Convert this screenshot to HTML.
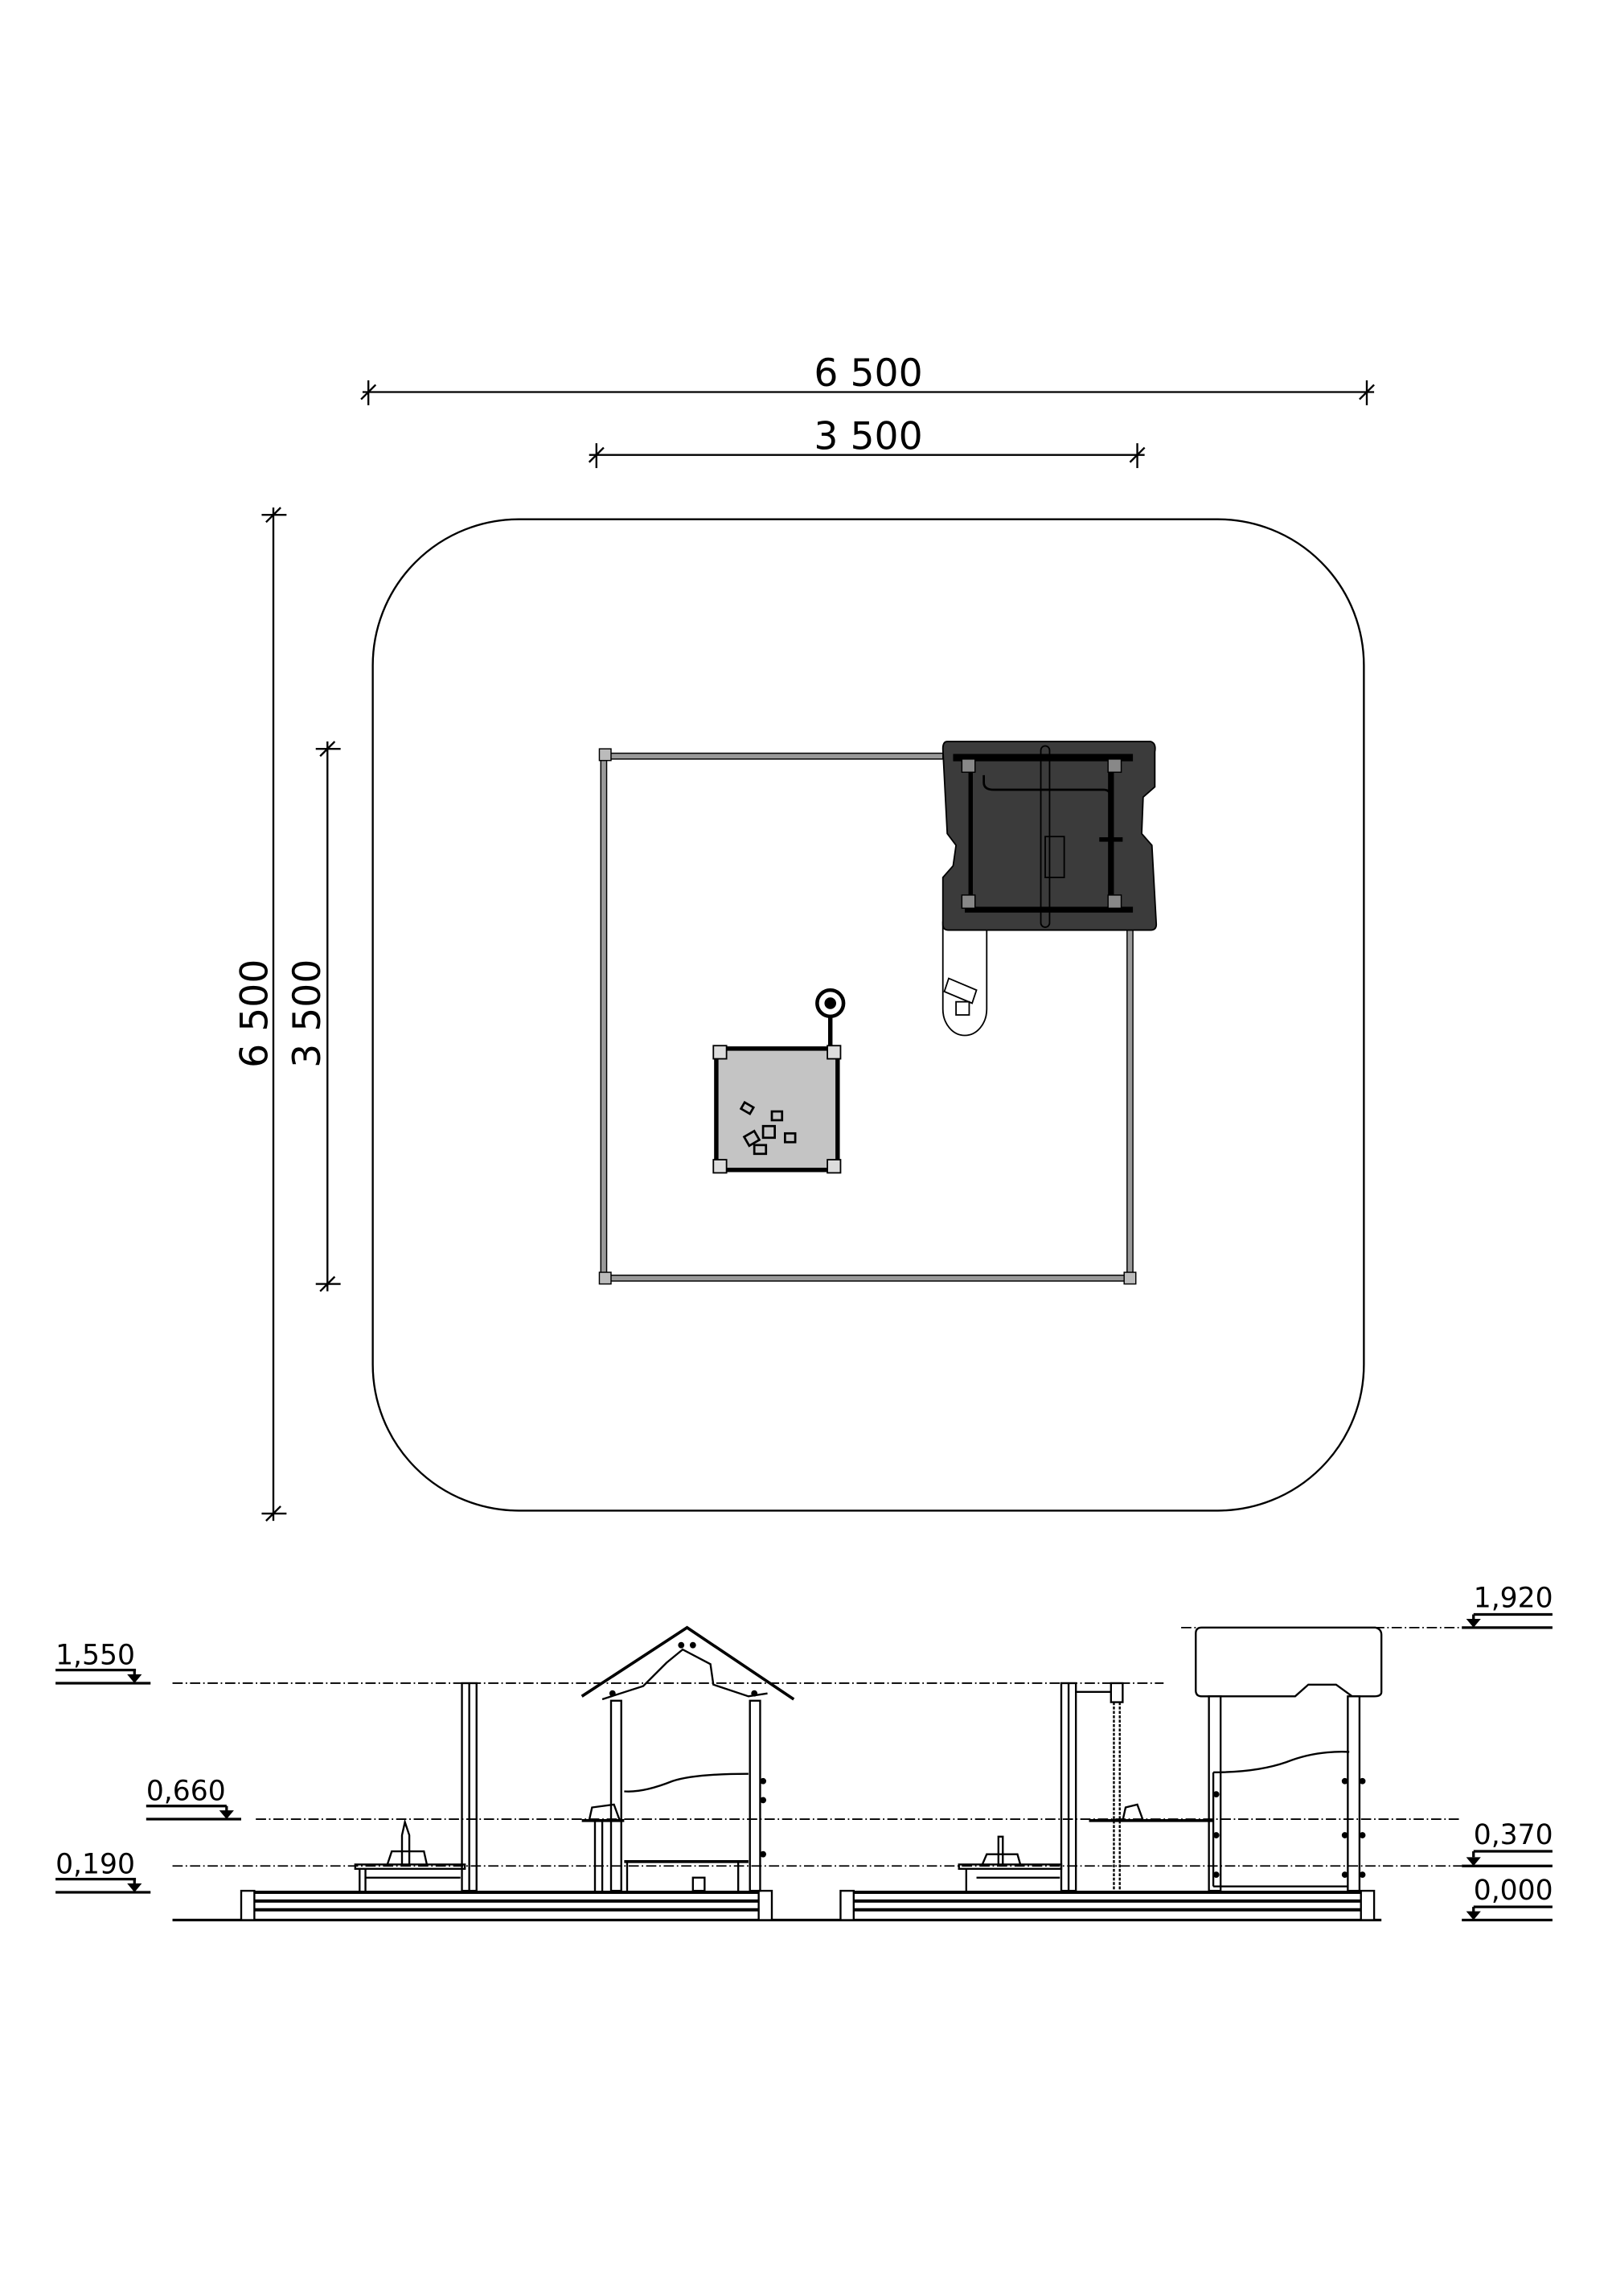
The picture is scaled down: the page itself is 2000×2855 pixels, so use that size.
<!DOCTYPE html>
<html><head><meta charset="utf-8"><style>html,body{margin:0;padding:0;background:#fff}svg{display:block}</style></head>
<body>
<svg width="2000" height="2855" viewBox="0 0 1100 1570" xmlns="http://www.w3.org/2000/svg" font-family="'DejaVu Sans','Liberation Sans',sans-serif">
<rect width="1100" height="1570" fill="#fff"/>
<g stroke="#000" stroke-width="1.3" fill="none">
<line x1="248" y1="268" x2="940" y2="268"/>
<line x1="252" y1="260" x2="252" y2="277"/><line x1="247" y1="273" x2="257" y2="263"/>
<line x1="935" y1="260" x2="935" y2="277"/><line x1="930" y1="273" x2="940" y2="263"/>
<line x1="403" y1="311" x2="783" y2="311"/>
<line x1="408" y1="303" x2="408" y2="320"/><line x1="403" y1="316" x2="413" y2="306"/>
<line x1="778" y1="303" x2="778" y2="320"/><line x1="773" y1="316" x2="783" y2="306"/>
<line x1="187" y1="347" x2="187" y2="1040"/>
<line x1="179" y1="352" x2="196" y2="352"/><line x1="182" y1="357" x2="192" y2="347"/>
<line x1="179" y1="1035" x2="196" y2="1035"/><line x1="182" y1="1040" x2="192" y2="1030"/>
<line x1="224" y1="507" x2="224" y2="883"/>
<line x1="216" y1="512" x2="233" y2="512"/><line x1="219" y1="517" x2="229" y2="507"/>
<line x1="216" y1="878" x2="233" y2="878"/><line x1="219" y1="883" x2="229" y2="873"/>
<rect x="255" y="355" width="678" height="678" rx="100" ry="100"/>
</g>
<g font-size="26" fill="#000" text-anchor="middle">
<text x="594" y="264">6 500</text>
<text x="594" y="307">3 500</text>
<text transform="translate(183,693) rotate(-90)">6 500</text>
<text transform="translate(219,693) rotate(-90)">3 500</text>
</g>
<g stroke="#000" stroke-width="0.8" fill="#999">
<rect x="413" y="515" width="232" height="4"/>
<rect x="413" y="872" width="362" height="4"/>
<rect x="411" y="515" width="4" height="360"/>
<rect x="771" y="630" width="4" height="245"/>
<rect x="410" y="512" width="8" height="8" fill="#bbb"/>
<rect x="410" y="870" width="8" height="8" fill="#bbb"/>
<rect x="769" y="870" width="8" height="8" fill="#bbb"/>
</g>
<path d="M645 630 L645 690 A15 18 0 0 0 675 690 L675 630" stroke="#000" stroke-width="1" fill="#fff"/>
<g stroke="#000" stroke-width="1" fill="none">
<path d="M649 669 L668 677 L665 686 L646 678 Z"/><rect x="654" y="685" width="9" height="9"/>
</g>
<path d="M648 507 L787 507 Q791 508 790 514 L790 538 L782 545 L781 570 L788 578 L791 632 Q791 636 787 636 L649 636 Q645 636 645 632 L645 600 L652 592 L654 578 L648 570 L645 512 Q645 507 648 507 Z" fill="#3b3b3b" stroke="#000" stroke-width="1"/>
<g stroke="#000" fill="none">
<line x1="652" y1="518" x2="775" y2="518" stroke-width="5"/>
<line x1="660" y1="622" x2="775" y2="622" stroke-width="4"/>
<line x1="664" y1="520" x2="664" y2="622" stroke-width="3"/>
<line x1="760" y1="520" x2="760" y2="622" stroke-width="4"/>
<path d="M673 530 L673 535 Q673 540 680 540 L755 540 Q760 540 760 546" stroke-width="1.5"/>
<rect x="712" y="510" width="6" height="124" rx="3" stroke-width="1"/>
<path d="M715 572 L728 572 L728 600 L715 600 Z" stroke-width="1"/>
<line x1="752" y1="574" x2="768" y2="574" stroke-width="3"/>
</g>
<g fill="#888" stroke="#000" stroke-width="0.8">
<rect x="658" y="519" width="9" height="9"/><rect x="758" y="519" width="9" height="9"/>
<rect x="658" y="612" width="9" height="9"/><rect x="758" y="612" width="9" height="9"/>
</g>
<rect x="490" y="717" width="83" height="83" fill="#c4c4c4" stroke="#000" stroke-width="3"/>
<g fill="#ddd" stroke="#000" stroke-width="1">
<rect x="488" y="715" width="9" height="9"/><rect x="566" y="715" width="9" height="9"/>
<rect x="488" y="793" width="9" height="9"/><rect x="566" y="793" width="9" height="9"/>
</g>
<line x1="568" y1="690" x2="568" y2="715" stroke="#000" stroke-width="3"/>
<circle cx="568" cy="686" r="9" fill="#fff" stroke="#000" stroke-width="2.5"/>
<circle cx="568" cy="686" r="4" fill="#000"/>
<g stroke="#000" stroke-width="1.5" fill="none">
<rect x="508" y="755" width="7" height="5" transform="rotate(30 511 757)"/>
<rect x="522" y="770" width="8" height="8"/><rect x="528" y="760" width="7" height="6"/>
<rect x="510" y="775" width="8" height="7" transform="rotate(-30 514 778)"/>
<rect x="516" y="783" width="8" height="6"/><rect x="537" y="775" width="7" height="6"/>
</g>
<g stroke="#000" stroke-width="1" fill="none" stroke-dasharray="7,2,1,2">
<line x1="118" y1="1151" x2="796" y2="1151"/>
<line x1="175" y1="1244" x2="1000" y2="1244"/>
<line x1="118" y1="1276" x2="1000" y2="1276"/>
<line x1="808" y1="1113" x2="1000" y2="1113"/>
</g>
<g stroke="#000" stroke-width="1.8" fill="none">
<line x1="118" y1="1313" x2="945" y2="1313"/>
<line x1="38" y1="1142" x2="93" y2="1142"/><line x1="38" y1="1151" x2="103" y2="1151"/><line x1="92" y1="1142" x2="92" y2="1146"/>
<line x1="100" y1="1235" x2="155" y2="1235"/><line x1="100" y1="1244" x2="165" y2="1244"/><line x1="155" y1="1235" x2="155" y2="1239"/>
<line x1="38" y1="1285" x2="93" y2="1285"/><line x1="38" y1="1294" x2="103" y2="1294"/><line x1="92" y1="1285" x2="92" y2="1289"/>
<line x1="1008" y1="1104" x2="1062" y2="1104"/><line x1="1000" y1="1113" x2="1062" y2="1113"/><line x1="1008" y1="1104" x2="1008" y2="1108"/>
<line x1="1008" y1="1266" x2="1062" y2="1266"/><line x1="1000" y1="1276" x2="1062" y2="1276"/><line x1="1008" y1="1266" x2="1008" y2="1270"/>
<line x1="1008" y1="1304" x2="1062" y2="1304"/><line x1="1000" y1="1313" x2="1062" y2="1313"/><line x1="1008" y1="1304" x2="1008" y2="1308"/>
</g>
<g fill="#000">
<path d="M87 1145 L97 1145 L92 1151 Z"/><path d="M150 1238 L160 1238 L155 1244 Z"/><path d="M87 1288 L97 1288 L92 1294 Z"/>
<path d="M1003 1107 L1013 1107 L1008 1113 Z"/><path d="M1003 1270 L1013 1270 L1008 1276 Z"/><path d="M1003 1307 L1013 1307 L1008 1313 Z"/>
</g>
<g font-size="19" fill="#000">
<text x="38" y="1138">1,550</text><text x="100" y="1231">0,660</text><text x="38" y="1281">0,190</text>
<text x="1008" y="1099">1,920</text><text x="1008" y="1261">0,370</text><text x="1008" y="1299">0,000</text>
</g>
<g stroke="#000" stroke-width="1.3" fill="#fff">
<rect x="165" y="1293" width="9" height="20"/><rect x="519" y="1293" width="9" height="20"/>
<rect x="575" y="1293" width="9" height="20"/><rect x="931" y="1293" width="9" height="20"/>
</g>
<g stroke="#000" stroke-width="2.2">
<line x1="174" y1="1294" x2="519" y2="1294"/><line x1="174" y1="1300" x2="519" y2="1300"/><line x1="174" y1="1306" x2="519" y2="1306"/>
<line x1="584" y1="1294" x2="931" y2="1294"/><line x1="584" y1="1300" x2="931" y2="1300"/><line x1="584" y1="1306" x2="931" y2="1306"/>
</g>
<g stroke="#000" stroke-width="1.3" fill="none">
<rect x="316" y="1151" width="10" height="142"/><line x1="321" y1="1151" x2="321" y2="1293"/>
<rect x="243" y="1275" width="75" height="3"/><line x1="246" y1="1278" x2="246" y2="1293"/><line x1="250" y1="1278" x2="250" y2="1293"/>
<line x1="250" y1="1284" x2="315" y2="1284"/>
<path d="M275 1275 L275 1255 L277 1246 L280 1255 L280 1275 M265 1275 L268 1266 L290 1266 L292 1275"/>
<path d="M398 1160 L470 1113 L543 1162" stroke-width="2"/>
<path d="M412 1162 L440 1153 L456 1137 L467 1128 L486 1138 L488 1152 L512 1160 L525 1158"/>
<rect x="418" y="1163" width="7" height="130"/><rect x="513" y="1163" width="7" height="130"/>
<line x1="398" y1="1245" x2="427" y2="1245" stroke-width="2"/>
<path d="M403 1245 L405 1236 L420 1234 L424 1245"/>
<line x1="407" y1="1245" x2="407" y2="1293"/><line x1="412" y1="1245" x2="412" y2="1293"/>
<line x1="427" y1="1273" x2="512" y2="1273" stroke-width="2"/>
<line x1="429" y1="1273" x2="429" y2="1293"/><line x1="505" y1="1273" x2="505" y2="1293"/>
<path d="M427 1225 Q440 1226 460 1218 Q475 1213 512 1213"/>
<rect x="474" y="1284" width="8" height="9"/>
<circle cx="522" cy="1218" r="1.5" fill="#000"/><circle cx="522" cy="1231" r="1.5" fill="#000"/><circle cx="522" cy="1268" r="1.5" fill="#000"/>
<circle cx="466" cy="1125" r="1.5" fill="#000"/><circle cx="474" cy="1125" r="1.5" fill="#000"/>
<circle cx="419" cy="1158" r="1.5" fill="#000"/><circle cx="516" cy="1158" r="1.5" fill="#000"/>
</g>
<g stroke="#000" stroke-width="1.3" fill="none">
<rect x="726" y="1151" width="10" height="142"/><line x1="731" y1="1151" x2="731" y2="1293"/>
<line x1="736" y1="1157" x2="760" y2="1157"/><rect x="760" y="1151" width="8" height="13"/>
<line x1="762" y1="1164" x2="762" y2="1293" stroke-dasharray="2,1"/><line x1="766" y1="1164" x2="766" y2="1293" stroke-dasharray="2,1"/>
<line x1="745" y1="1245" x2="830" y2="1245" stroke-width="2"/>
<path d="M768 1245 L770 1236 L778 1234 L782 1245"/>
<rect x="656" y="1275" width="70" height="3"/><line x1="661" y1="1278" x2="661" y2="1293"/><line x1="668" y1="1284" x2="725" y2="1284"/>
<path d="M683 1275 L683 1256 L686 1256 L686 1275 M672 1275 L675 1268 L696 1268 L698 1275"/>
<path d="M822 1113 L941 1113 Q945 1114 945 1118 L945 1157 Q945 1160 940 1160 L925 1160 L914 1152 L895 1152 L886 1160 L822 1160 Q818 1160 818 1156 L818 1117 Q818 1113 822 1113 Z"/>
<rect x="827" y="1160" width="8" height="133"/><rect x="922" y="1160" width="8" height="133"/>
<path d="M830 1212 Q860 1212 880 1205 Q900 1197 923 1198"/>
<line x1="830" y1="1212" x2="830" y2="1290"/><line x1="830" y1="1290" x2="922" y2="1290"/>
<circle cx="832" cy="1227" r="1.5" fill="#000"/><circle cx="832" cy="1255" r="1.5" fill="#000"/><circle cx="832" cy="1282" r="1.5" fill="#000"/>
<circle cx="920" cy="1218" r="1.5" fill="#000"/><circle cx="920" cy="1255" r="1.5" fill="#000"/><circle cx="920" cy="1282" r="1.5" fill="#000"/>
<circle cx="932" cy="1218" r="1.5" fill="#000"/><circle cx="932" cy="1255" r="1.5" fill="#000"/><circle cx="932" cy="1282" r="1.5" fill="#000"/>
</g>
</svg>
</body></html>
